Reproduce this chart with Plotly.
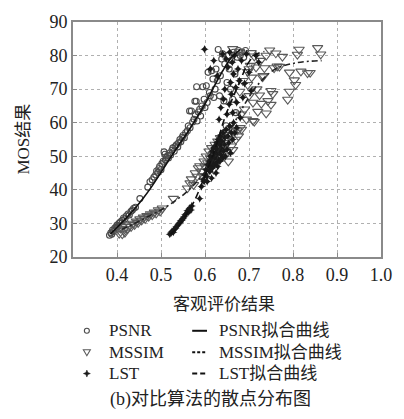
import plotly.graph_objects as go

# ---- scatter data: objective score vs. MOS ----
psnr_x = [0.383, 0.386, 0.388, 0.390, 0.392, 0.395, 0.398, 0.400, 0.403, 0.405, 0.408, 0.412, 0.415, 0.418,
          0.421, 0.425, 0.428, 0.432, 0.435, 0.438, 0.442, 0.452,
          0.470, 0.475, 0.480, 0.484, 0.488, 0.490, 0.493, 0.495, 0.497, 0.500, 0.502, 0.505, 0.507, 0.509,
          0.510, 0.512, 0.515, 0.517, 0.520, 0.522, 0.525, 0.527, 0.530, 0.532, 0.535, 0.538, 0.540, 0.543,
          0.545, 0.548, 0.550, 0.553, 0.556, 0.560,
          0.562, 0.565, 0.566, 0.569, 0.572, 0.575, 0.577, 0.578, 0.580, 0.581, 0.582, 0.585, 0.588, 0.590,
          0.593, 0.595, 0.598, 0.600, 0.603, 0.605, 0.607, 0.610, 0.612, 0.615, 0.618, 0.620, 0.623, 0.625,
          0.628, 0.630, 0.633, 0.635, 0.638, 0.640, 0.643, 0.645, 0.648, 0.650, 0.653, 0.655, 0.658, 0.660,
          0.663, 0.665, 0.668, 0.670, 0.673, 0.676, 0.680, 0.684, 0.688, 0.692]
psnr_y = [26.5, 27.2, 26.8, 28.0, 27.6, 28.6, 28.9, 29.5, 29.2, 30.1, 30.5, 30.9, 31.6, 31.3,
          32.2, 32.8, 32.5, 33.6, 34.0, 34.5, 34.8, 37.4,
          40.8, 42.4, 43.0, 43.8, 44.5, 45.6, 45.2, 46.3, 47.0, 46.0, 47.8, 48.5, 51.3, 50.6,
          48.9, 49.6, 50.2, 49.5, 51.0, 50.4, 51.8, 52.5, 51.5, 52.9, 53.4, 52.8, 54.0, 55.0,
          54.3, 55.6, 56.2, 55.5, 57.0, 57.6,
          59.0, 63.5, 58.5, 63.5, 60.2, 61.0, 66.4, 62.4, 66.4, 70.7, 60.5, 63.2, 64.0, 62.0,
          65.0, 70.7, 67.0, 64.5, 71.0, 66.0, 75.0, 69.0, 68.0, 75.5, 73.0, 67.5, 70.0, 76.0,
          72.5, 81.8, 68.0, 74.0, 79.0, 80.5, 66.5, 77.5, 59.1, 72.0, 80.0, 76.0, 70.0, 78.5,
          67.0, 81.0, 74.5, 63.0, 79.5, 81.5, 80.0, 81.0, 79.5, 81.5]

mssim_x = [0.405, 0.408, 0.412, 0.415, 0.418, 0.420, 0.424, 0.428, 0.432, 0.436, 0.440, 0.444, 0.448,
           0.452, 0.456, 0.460, 0.464, 0.468, 0.472, 0.476, 0.480, 0.485, 0.489, 0.494, 0.498, 0.503, 0.528,
           0.560, 0.566, 0.569, 0.574, 0.578, 0.582, 0.585, 0.588, 0.592, 0.595, 0.598, 0.600, 0.603, 0.606,
           0.609, 0.612, 0.615, 0.618, 0.620, 0.623, 0.626, 0.629, 0.632, 0.635, 0.638, 0.641, 0.644, 0.647,
           0.650, 0.653, 0.656, 0.660, 0.663, 0.666, 0.670, 0.673, 0.676, 0.680,
           0.663, 0.678, 0.679, 0.682, 0.683, 0.686, 0.690, 0.694, 0.697, 0.697, 0.700, 0.700, 0.703, 0.705,
           0.706, 0.709, 0.709, 0.712, 0.712, 0.716, 0.718, 0.720, 0.724, 0.726, 0.728, 0.731, 0.732, 0.735,
           0.739, 0.739, 0.743, 0.747, 0.750, 0.750, 0.754, 0.757, 0.761, 0.764, 0.769, 0.776, 0.788, 0.792,
           0.792, 0.803, 0.806, 0.810, 0.814, 0.818, 0.833, 0.839, 0.856, 0.863]
mssim_y = [27.0, 28.5, 26.8, 28.0, 27.3, 29.0, 28.4, 29.5, 29.0, 30.0, 29.6, 30.6, 30.2,
           31.3, 30.9, 31.8, 31.4, 32.3, 32.0, 32.8, 32.5, 33.3, 33.0, 34.0, 33.6, 34.5, 37.4,
           40.5, 42.0, 43.2, 41.5, 45.0, 44.0, 46.5, 47.1, 45.5, 44.2, 48.5, 47.0, 50.0, 48.0,
           51.5, 49.5, 52.5, 50.5, 46.0, 53.5, 51.0, 54.5, 49.0, 55.5, 52.5, 55.8, 50.0, 57.0,
           54.0, 48.5, 56.5, 53.0, 51.9, 57.5, 55.0, 57.7, 56.0, 58.5,
           82.0, 81.2, 69.3, 62.5, 58.0, 72.5, 64.0, 61.0, 71.3, 75.2, 68.0, 76.0, 77.0, 80.8,
           73.5, 66.0, 60.6, 60.3, 79.8, 76.5, 70.0, 63.3, 68.2, 78.5, 65.7, 73.6, 74.0, 76.3,
           62.8, 80.0, 66.5, 81.6, 69.5, 65.4, 68.6, 76.3, 80.7, 76.8, 76.7, 79.7, 66.9, 69.3,
           75.0, 72.7, 71.3, 80.3, 81.8, 75.3, 74.8, 74.9, 82.3, 80.4]

lst_x = [0.520, 0.523, 0.525, 0.528, 0.530, 0.533, 0.535, 0.538, 0.540, 0.543, 0.545, 0.548, 0.550,
         0.553, 0.555, 0.558, 0.560, 0.563, 0.565, 0.568, 0.570, 0.588,
         0.592, 0.596, 0.598, 0.600, 0.602, 0.604, 0.605, 0.606, 0.608, 0.610, 0.611, 0.612, 0.614, 0.615,
         0.615, 0.616, 0.617, 0.618, 0.619, 0.620, 0.621, 0.622, 0.623, 0.624, 0.625, 0.625, 0.626, 0.627,
         0.628, 0.629, 0.630, 0.631, 0.632, 0.633, 0.634, 0.635, 0.636, 0.637, 0.638, 0.640, 0.641, 0.642,
         0.644, 0.645, 0.646, 0.648, 0.650, 0.652, 0.654, 0.656, 0.658, 0.660, 0.663, 0.665, 0.668, 0.672,
         0.599, 0.612, 0.620, 0.628, 0.632, 0.636, 0.640, 0.642, 0.645, 0.648, 0.650, 0.652, 0.655, 0.656,
         0.658, 0.660, 0.662, 0.663, 0.665, 0.667, 0.670, 0.672, 0.675, 0.678, 0.680, 0.683, 0.686, 0.690,
         0.694, 0.700, 0.705, 0.716, 0.722]
lst_y = [26.8, 27.2, 27.6, 27.4, 28.2, 28.6, 29.0, 29.5, 29.8, 30.3, 30.8, 31.0, 31.5,
         32.0, 32.6, 33.0, 33.8, 33.4, 34.5, 34.0, 35.2, 37.4,
         41.0, 43.0, 42.5, 44.5, 46.0, 44.0, 42.5, 47.5, 46.0, 48.5, 45.5, 50.0, 47.0, 49.0,
         43.5, 51.5, 46.5, 48.0, 52.5, 50.0, 47.5, 49.5, 53.0, 51.0, 48.0, 45.0, 54.0, 50.5,
         52.0, 47.0, 55.0, 49.0, 51.5, 53.5, 48.5, 56.0, 50.5, 52.5, 54.5, 49.5, 57.0, 51.5,
         53.5, 55.5, 50.0, 58.0, 52.0, 56.0, 54.0, 59.0, 51.0, 57.0, 55.0, 60.0, 57.0, 58.5,
         81.9, 76.0, 78.5, 74.0, 61.0, 64.5, 80.5, 67.0, 70.0, 79.0, 62.5, 76.5, 65.5, 81.0,
         72.0, 68.5, 78.0, 63.0, 74.5, 80.0, 70.5, 66.0, 76.0, 72.5, 61.5, 78.5, 67.5, 71.7,
         80.5, 75.0, 69.5, 80.0, 78.0]

# ---- fitted curves ----
psnr_fit_x = [0.385, 0.40, 0.42, 0.44, 0.46, 0.48, 0.50, 0.52, 0.54, 0.56, 0.58, 0.60, 0.62, 0.64, 0.66, 0.68]
psnr_fit_y = [26.8, 28.8, 31.5, 34.4, 37.6, 41.2, 45.2, 49.3, 53.3, 57.1, 61.2, 65.6, 70.6, 75.4, 79.4, 81.8]

mssim_fit_x = [0.41, 0.44, 0.47, 0.50, 0.524, 0.554, 0.584, 0.603, 0.63, 0.65, 0.67, 0.69, 0.72, 0.76, 0.81, 0.865]
mssim_fit_y = [28.2, 30.0, 32.0, 34.0, 36.0, 38.9, 42.8, 45.7, 51.5, 56.0, 60.8, 65.5, 71.3, 76.0, 77.9, 78.5]

lst_fit_x = [0.522, 0.54, 0.558, 0.575, 0.59, 0.607, 0.625, 0.645, 0.665, 0.68, 0.697, 0.715, 0.735]
lst_fit_y = [26.8, 29.2, 32.8, 36.5, 41.0, 46.5, 53.0, 61.5, 68.0, 72.5, 77.5, 80.3, 81.2]

x_ticks = [0.4, 0.5, 0.6, 0.7, 0.8, 0.9, 1.0]
x_tick_text = ["0.4", "0.5", "0.6", "0.7", "0.8", "0.9", "1.0"]
y_ticks = [20, 30, 40, 50, 60, 70, 80, 90]

point_labels = ["PSNR", "MSSIM", "LST"]
curve_labels = ["PSNR拟合曲线", "MSSIM拟合曲线", "LST拟合曲线"]

SERIF = "Liberation Serif, Noto Sans CJK SC, serif"
INK = "#222222"

fig = go.Figure()

fig.add_trace(go.Scatter(
    x=psnr_x, y=psnr_y, mode="markers", name=point_labels[0],
    marker=dict(symbol="circle-open", size=6, color="#4a4a4a", line=dict(width=1.1)),
))
fig.add_trace(go.Scatter(
    x=mssim_x, y=mssim_y, mode="markers", name=point_labels[1],
    marker=dict(symbol="triangle-down-open", size=9, color="#5a5a5a", line=dict(width=1.1)),
))
fig.add_trace(go.Scatter(
    x=lst_x, y=lst_y, mode="markers", name=point_labels[2],
    marker=dict(symbol="star-diamond", size=6, color="#1a1a1a", line=dict(width=0)),
))

curve_dashes = ["solid", "6px,3px,2px,3px", "7px,4px"]
legend_dashes = ["solid", "3px,2px", "5px,3px"]

fig.add_trace(go.Scatter(
    x=psnr_fit_x, y=psnr_fit_y, mode="lines", name=curve_labels[0],
    line=dict(color="#111111", width=1.6, shape="spline", dash=curve_dashes[0]),
))
fig.add_trace(go.Scatter(
    x=mssim_fit_x, y=mssim_fit_y, mode="lines", name=curve_labels[1],
    line=dict(color="#222222", width=1.6, shape="spline", dash=curve_dashes[1]),
))
fig.add_trace(go.Scatter(
    x=lst_fit_x, y=lst_fit_y, mode="lines", name=curve_labels[2],
    line=dict(color="#111111", width=1.6, shape="spline", dash=curve_dashes[2]),
))

axis_common = dict(
    showline=True, linecolor="#8a8a8a", linewidth=2, mirror=True,
    showgrid=True, gridcolor="#b0b0b0", gridwidth=1, griddash="dot",
    ticks="inside", ticklen=4, tickcolor="#8a8a8a",
    zeroline=False,
    tickfont=dict(family=SERIF, size=18, color=INK),
)
fig.update_xaxes(range=[0.3, 1.0], tickvals=x_ticks, ticktext=x_tick_text, **axis_common)
fig.update_yaxes(range=[20, 90], tickvals=y_ticks, **axis_common)

# ---- key below the axes: two columns, three rows ----
row_y = [-0.314, -0.405, -0.496]
key_font = dict(family=SERIF, size=17, color=INK)
annotations = []
shapes = []
for i in range(3):
    annotations.append(dict(text=point_labels[i], xref="paper", yref="paper", x=0.110, y=row_y[i],
                            xanchor="left", yanchor="middle", showarrow=False, font=key_font))
    annotations.append(dict(text=curve_labels[i], xref="paper", yref="paper", x=0.468, y=row_y[i],
                            xanchor="left", yanchor="middle", showarrow=False, font=key_font))
    shapes.append(dict(type="line", xref="paper", yref="paper", x0=0.387, x1=0.435,
                       y0=row_y[i], y1=row_y[i],
                       line=dict(color="#111111", width=2, dash=legend_dashes[i])))

key_x = 0.045
# circle key
shapes.append(dict(type="circle", xref="paper", yref="paper", xsizemode="pixel", ysizemode="pixel",
                   xanchor=key_x, yanchor=row_y[0], x0=-2.5, x1=2.5, y0=-2.5, y1=2.5,
                   line=dict(color="#4a4a4a", width=1.1)))
# down-triangle key
shapes.append(dict(type="path", xref="paper", yref="paper", xsizemode="pixel", ysizemode="pixel",
                   xanchor=key_x, yanchor=row_y[1], path="M -3.5 2.5 L 3.5 2.5 L 0 -3.5 Z",
                   line=dict(color="#5a5a5a", width=1.1)))
# star key
shapes.append(dict(type="path", xref="paper", yref="paper", xsizemode="pixel", ysizemode="pixel",
                   xanchor=key_x, yanchor=row_y[2],
                   path="M 0 -3.5 L 1 -1 L 3.5 0 L 1 1 L 0 3.5 L -1 1 L -3.5 0 L -1 -1 Z",
                   fillcolor="#1a1a1a", line=dict(color="#1a1a1a", width=0.5)))

annotations += [
    dict(text="客观评价结果", xref="paper", yref="paper", x=0.49, y=-0.2,
         xanchor="center", yanchor="middle", showarrow=False, font=dict(family=SERIF, size=17, color=INK)),
    dict(text="MOS结果", xref="paper", yref="paper", x=-0.162, y=0.5,
         xanchor="center", yanchor="middle", showarrow=False, textangle=-90,
         font=dict(family=SERIF, size=17, color=INK)),
    dict(text="(b)对比算法的散点分布图", xref="paper", yref="paper", x=0.445, y=-0.607,
         xanchor="center", yanchor="middle", showarrow=False, font=dict(family=SERIF, size=18, color=INK)),
]

fig.update_layout(
    width=404, height=419,
    margin=dict(l=73, r=21, t=15, b=162),
    paper_bgcolor="white", plot_bgcolor="white",
    showlegend=False,
    annotations=annotations,
    shapes=shapes,
)

fig.write_html("out.html")
